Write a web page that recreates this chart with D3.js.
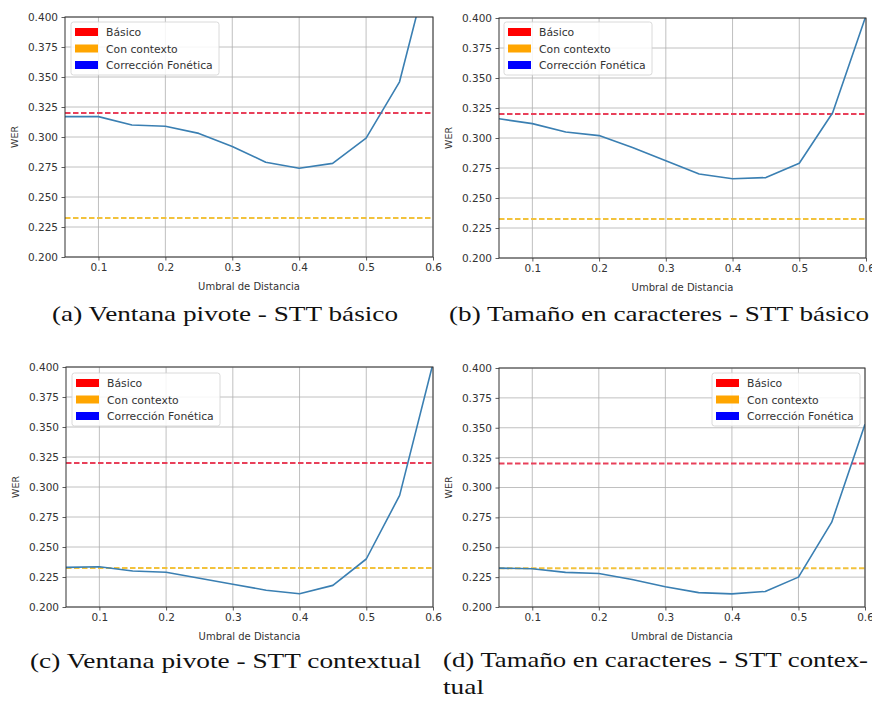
<!DOCTYPE html>
<html>
<head>
<meta charset="utf-8">
<script src="https://cdn.jsdelivr.net/npm/d3@7"></script>
<style>
  html, body { margin: 0; padding: 0; background: #fff; }
  svg { display: block; }
</style>
</head>
<body>
<div id="chart"></div>
<script>
// ---------- DATA ----------
const thresholds = [0.05, 0.10, 0.15, 0.20, 0.25, 0.30, 0.35, 0.40, 0.45, 0.50, 0.55, 0.60];
const werPivoteBasico      = [0.317, 0.317, 0.310, 0.309, 0.303, 0.292, 0.279, 0.274, 0.278, 0.299, 0.346, 0.455];
const werTamanoBasico      = [0.316, 0.312, 0.305, 0.302, 0.292, 0.281, 0.270, 0.266, 0.267, 0.279, 0.321, 0.402];
const werPivoteContextual  = [0.233, 0.2335, 0.230, 0.229, 0.224, 0.219, 0.214, 0.211, 0.218, 0.240, 0.293, 0.403];
const werTamanoContextual  = [0.2325, 0.232, 0.229, 0.228, 0.223, 0.217, 0.212, 0.211, 0.213, 0.225, 0.271, 0.353];
const baselineBasico   = 0.320;
const baselineContexto = 0.2325;
const xTicks = [0.1, 0.2, 0.3, 0.4, 0.5, 0.6];
const yTicks = [0.200, 0.225, 0.250, 0.275, 0.300, 0.325, 0.350, 0.375, 0.400];
const legendLabels = ["Básico", "Con contexto", "Corrección Fonética"];
const legendColors = ["#ff0000", "#ffa500", "#0000ff"];
const captions = [
  ["(a) Ventana pivote - STT básico"],
  ["(b) Tamaño en caracteres - STT básico"],
  ["(c) Ventana pivote - STT contextual"],
  ["(d) Tamaño en caracteres - STT contex-", "tual"]
];
const seriesList = [werPivoteBasico, werTamanoBasico, werPivoteContextual, werTamanoContextual];

// ---------- LAYOUT ----------
const W = 872, H = 704;
const panels = [
  { l: 65,  r: 433, t: 17,  b: 257, legend: { x: 71,  y: 22 },  cap: { x: 52,  y: 321, w: 346 } },
  { l: 499, r: 866, t: 18,  b: 258, legend: { x: 504, y: 22 },  cap: { x: 449, y: 321, w: 420 } },
  { l: 66,  r: 433, t: 367, b: 607, legend: { x: 72,  y: 373 }, cap: { x: 30,  y: 668, w: 391 } },
  { l: 499, r: 865, t: 368, b: 607, legend: { x: 712, y: 373 }, cap: { x: 443, y: 667, w: 425, w2: 41, dy2: 27 } }
];

const svg = d3.select("#chart").append("svg")
  .attr("width", W).attr("height", H)
  .attr("viewBox", `0 0 ${W} ${H}`);

const sans = "'DejaVu Sans', sans-serif";
const serif = "'Liberation Serif', 'DejaVu Serif', serif";

panels.forEach((p, i) => {
  const data = thresholds.map((x, k) => ({ x, y: seriesList[i][k] }));
  const x = d3.scaleLinear().domain([0.05, 0.6]).range([p.l, p.r]);
  const y = d3.scaleLinear().domain([0.2, 0.4]).range([p.b, p.t]);
  const g = svg.append("g");

  const clipId = "clip" + i;
  svg.append("clipPath").attr("id", clipId)
    .append("rect").attr("x", p.l).attr("y", p.t).attr("width", p.r - p.l).attr("height", p.b - p.t);

  // grid
  g.append("g").selectAll("line").data(xTicks).join("line")
    .attr("x1", d => x(d)).attr("x2", d => x(d)).attr("y1", p.t).attr("y2", p.b)
    .attr("stroke", "#b0b0b0").attr("stroke-width", 0.8);
  g.append("g").selectAll("line").data(yTicks).join("line")
    .attr("x1", p.l).attr("x2", p.r).attr("y1", d => y(d)).attr("y2", d => y(d))
    .attr("stroke", "#b0b0b0").attr("stroke-width", 0.8);

  const plot = g.append("g").attr("clip-path", `url(#${clipId})`);
  // baselines
  plot.append("line")
    .attr("x1", p.l).attr("x2", p.r).attr("y1", y(baselineBasico)).attr("y2", y(baselineBasico))
    .attr("stroke", "#e8405a").attr("stroke-width", 2).attr("stroke-dasharray", "5.5,2.5");
  plot.append("line")
    .attr("x1", p.l).attr("x2", p.r).attr("y1", y(baselineContexto)).attr("y2", y(baselineContexto))
    .attr("stroke", "#f2c23c").attr("stroke-width", 2).attr("stroke-dasharray", "5.5,2.5");
  // series line
  plot.append("path").datum(data)
    .attr("d", d3.line().x(d => x(d.x)).y(d => y(d.y)))
    .attr("fill", "none").attr("stroke", "#3a7fb2").attr("stroke-width", 1.6)
    .attr("stroke-linejoin", "round");

  // axes
  const xAxis = d3.axisBottom(x).tickValues(xTicks).tickFormat(d3.format(".1f")).tickSize(3.5).tickPadding(3);
  const yAxis = d3.axisLeft(y).tickValues(yTicks).tickFormat(d3.format(".3f")).tickSize(3.5).tickPadding(3.5);
  const xa = g.append("g").attr("transform", `translate(0,${p.b})`).call(xAxis);
  const ya = g.append("g").attr("transform", `translate(${p.l},0)`).call(yAxis);
  [xa, ya].forEach(a => {
    a.select(".domain").remove();
    a.selectAll("line").attr("stroke", "#333").attr("stroke-width", 0.8);
    a.selectAll("text").attr("font-family", sans).attr("font-size", 10.5).attr("fill", "#333");
  });

  // spines
  g.append("rect").attr("x", p.l).attr("y", p.t).attr("width", p.r - p.l).attr("height", p.b - p.t)
    .attr("fill", "none").attr("stroke", "#333").attr("stroke-width", 1);

  // axis titles
  g.append("text").attr("x", (p.l + p.r) / 2).attr("y", p.b + 33)
    .attr("text-anchor", "middle").attr("font-family", sans).attr("font-size", 10).attr("fill", "#333")
    .text("Umbral de Distancia");
  g.append("text").attr("transform", `translate(${p.l - 47},${(p.t + p.b) / 2}) rotate(-90)`)
    .attr("text-anchor", "middle").attr("font-family", sans).attr("font-size", 9.5).attr("fill", "#333")
    .text("WER");

  // legend
  const lg = g.append("g").attr("transform", `translate(${p.legend.x},${p.legend.y})`);
  lg.append("rect").attr("width", 148).attr("height", 53).attr("rx", 2.5)
    .attr("fill", "#fff").attr("fill-opacity", 0.85).attr("stroke", "#d0d0d0").attr("stroke-width", 0.8);
  legendLabels.forEach((lab, k) => {
    const row = lg.append("g").attr("transform", `translate(0,${10 + k * 16.5})`);
    row.append("rect").attr("x", 4).attr("y", -4).attr("width", 23).attr("height", 8).attr("fill", legendColors[k]);
    row.append("text").attr("x", 35).attr("y", 4).attr("font-family", sans).attr("font-size", 10.8)
      .attr("fill", "#333").text(lab);
  });

  // caption
  const cap = captions[i];
  g.append("text").attr("x", p.cap.x).attr("y", p.cap.y)
    .attr("font-family", serif).attr("font-size", 21).attr("fill", "#111")
    .attr("textLength", p.cap.w).attr("lengthAdjust", "spacingAndGlyphs")
    .text(cap[0]);
  if (cap.length > 1) {
    g.append("text").attr("x", p.cap.x).attr("y", p.cap.y + p.cap.dy2)
      .attr("font-family", serif).attr("font-size", 21).attr("fill", "#111")
      .attr("textLength", p.cap.w2).attr("lengthAdjust", "spacingAndGlyphs")
      .text(cap[1]);
  }
});
</script>
</body>
</html>
